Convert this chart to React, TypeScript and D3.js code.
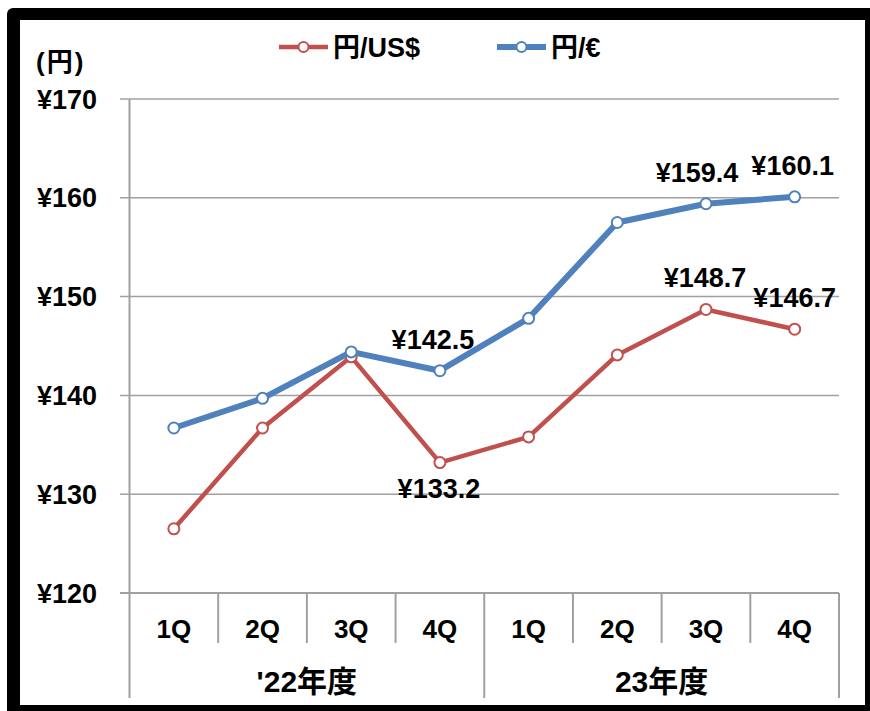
import React from 'react';
import * as d3 from 'd3';

const quarters = ['1Q', '2Q', '3Q', '4Q', '1Q', '2Q', '3Q', '4Q'];
const years = ["'22年度", '23年度'];
const usd = [126.5, 136.7, 143.9, 133.2, 135.8, 144.1, 148.7, 146.7];
const eur = [136.7, 139.7, 144.4, 142.5, 147.8, 157.5, 159.4, 160.1];
const yTicks = [120, 130, 140, 150, 160, 170];

// which points get a value label: [series, index, placement, nudge]
const labels: [string, number, string, number][] = [
  ['eur', 3, 'above', -7],
  ['usd', 3, 'below', -1],
  ['eur', 6, 'above', -9],
  ['eur', 7, 'above', -2],
  ['usd', 6, 'above', -1],
  ['usd', 7, 'above', 0],
];

const W = 870;
const H = 711;
const FONT = "'Liberation Sans', Arial, 'Noto Sans CJK JP', sans-serif";
const RED = '#C0504D';
const BLUE = '#4F81BD';
const GRID = '#A0A0A0';

export default function App() {
  const x = d3.scaleBand<number>().domain(d3.range(quarters.length)).range([129.5, 839]).padding(0);
  const y = d3.scaleLinear().domain([120, 170]).range([593, 99]);
  const cx = (i: number) => (x(i) as number) + x.bandwidth() / 2;

  const line = d3.line<number>().x((_, i) => cx(i)).y(d => y(d));

  const series = [
    { key: 'usd', values: usd, color: RED, width: 4.5, name: '円/US$' },
    { key: 'eur', values: eur, color: BLUE, width: 6, name: '円/€' },
  ];
  const byKey: Record<string, number[]> = { usd, eur };

  const legendX = [279, 497];

  return (
    <svg width={W} height={H} style={{ position: 'absolute', left: 0, top: 0, background: '#fff' }} fontFamily={FONT} fontWeight="bold">
      <rect x={7} y={8} width={880} height={720} rx={6} fill="#000" />
      <rect x={20} y={20} width={845} height={685} fill="#fff" />

      {/* gridlines */}
      {yTicks.map(t => (
        <g key={t}>
          <line x1={120} x2={839} y1={y(t)} y2={y(t)} stroke={GRID} strokeWidth={t === 120 ? 2 : 1.5} />
          <text x={97} y={y(t) + 9.5} textAnchor="end" fontSize={27} fill="#000">¥{t}</text>
        </g>
      ))}
      <line x1={129.5} x2={129.5} y1={99} y2={698} stroke={GRID} strokeWidth={2} />

      {/* category dividers */}
      {d3.range(1, quarters.length + 1).map(i => {
        const xx = i === quarters.length ? 839 : (x(i) as number);
        const long = i % 4 === 0;
        return <line key={i} x1={xx} x2={xx} y1={593} y2={long ? 698 : 643} stroke={GRID} strokeWidth={2} />;
      })}
      {quarters.map((q, i) => (
        <text key={i} x={cx(i)} y={638} textAnchor="middle" fontSize={26} fill="#000">{q}</text>
      ))}
      {years.map((yr, j) => {
        const a = x(j * 4) as number;
        const b = j === years.length - 1 ? 839 : (x(j * 4 + 4) as number);
        return <text key={j} x={(a + b) / 2} y={692} textAnchor="middle" fontSize={30} fill="#000">{yr}</text>;
      })}

      <text x={36} y={71} fontSize={26} letterSpacing={2} fill="#000">(円)</text>

      {/* legend */}
      {series.map((s, k) => (
        <g key={s.key}>
          <line x1={legendX[k]} x2={legendX[k] + 49} y1={47} y2={47} stroke={s.color} strokeWidth={s.width} />
          <circle cx={legendX[k] + 24.5} cy={47} r={5} fill="#fff" stroke={s.color} strokeWidth={2} />
          <text x={legendX[k] + 54} y={57} fontSize={27} fill="#000">{s.name}</text>
        </g>
      ))}

      {/* lines */}
      {series.map(s => (
        <g key={s.key}>
          <path d={line(s.values) || ''} fill="none" stroke={s.color} strokeWidth={s.width} strokeLinejoin="round" />
          {s.values.map((v, i) => (
            <circle key={i} cx={cx(i)} cy={y(v)} r={5.5} fill="#fff" stroke={s.color} strokeWidth={2} />
          ))}
        </g>
      ))}

      {/* value labels */}
      {labels.map(([k, i, place, dx], n) => {
        const v = byKey[k][i];
        const ty = place === 'above' ? y(v) - 22 : y(v) + 35;
        return (
          <text key={n} x={cx(i) + dx} y={ty} textAnchor="middle" fontSize={27} fill="#000">¥{v.toFixed(1)}</text>
        );
      })}
    </svg>
  );
}
